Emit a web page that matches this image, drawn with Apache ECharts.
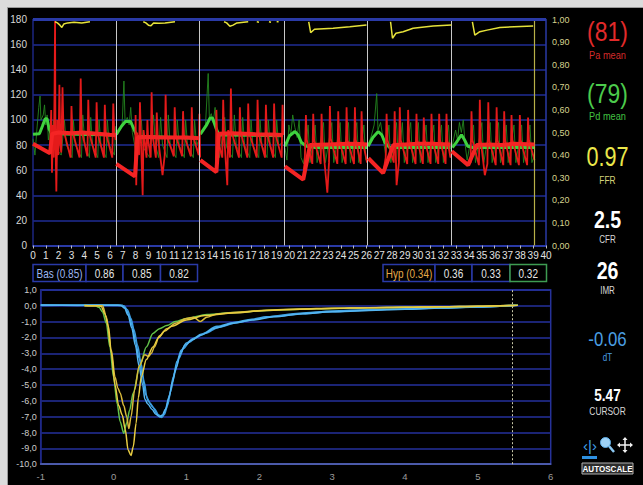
<!DOCTYPE html>
<html><head><meta charset="utf-8">
<script src="https://cdn.jsdelivr.net/npm/echarts/dist/echarts.min.js"></script>
<style>
html,body{margin:0;padding:0;background:#dcdcdc;width:643px;height:485px;overflow:hidden}
#bg{position:absolute;left:7px;top:7px;width:636px;height:478px;background:#000;border-left:1px solid #9a9a9a;border-top:1px solid #9a9a9a;box-sizing:border-box}
#chart{position:absolute;left:0;top:0;width:643px;height:485px}
</style></head><body><div id="bg"></div><div id="chart"></div>
<script>
// ---------- axis ranges / tick labels ----------
const topX = [0, 40, 1];
const topY = [0, 180, 20];
const ratioY = [0, 1, 0.1];
const botX = [-1, 6, 1];
const botY = [-10, 1, 1];

// ---------- pressure panel (time s, mmHg) ----------
const paMean = [
 [[0,81],[1.33,73.5],[1.5,89],[2.0,90],[3.0,89.5],[3.9,90],[5.0,89],[6.0,88.2],[6.45,88]],
 [[6.5,65],[7.95,55],[8.15,86],[9.0,86.5],[10.0,86],[11.0,86],[12.0,86],[12.97,85.5]],
 [[13.05,68],[14.3,58.5],[14.5,89],[15.5,89.5],[16.5,89],[17.5,88.5],[18.5,88.5],[19.5,88]],
 [[19.64,63],[21.07,52.5],[21.6,80],[23.0,80.5],[24.5,81],[25.5,80.8],[26.05,80.5]],
 [[26.15,69.5],[27.3,57.6],[28.1,80],[29.0,80.5],[30.0,81],[31.0,81],[32.55,80.5]],
 [[32.65,75],[33.93,64],[34.6,80],[35.5,80.5],[36.5,80],[37.5,81],[39.1,80.5]]
];
const paWave = [
 [[1.33,73],[1.42,108],[1.48,58],[1.56,96],[1.62,70],[1.68,122],[1.72,180],[1.75,88],[1.82,43],[1.9,100],[1.98,72],[2.06,128],[2.12,82],[2.2,74],[2.3,126],[2.38,92],[2.93,70],[3.0,111],[3.07,91],[3.63,70],[3.72,133],[3.79,92],[4.24,71],[4.31,116],[4.38,90],[4.89,70],[4.96,114],[5.03,90],[5.53,70],[5.6,112],[5.67,90],[6.18,70],[6.26,113],[6.33,90],[6.45,84]],
 [[7.95,55],[8.0,104],[8.05,48],[8.12,90],[8.27,72],[8.34,114],[8.41,88],[8.55,40],[8.62,92],[8.85,70],[8.92,100],[8.98,84],[9.18,70],[9.25,122],[9.32,88],[9.58,70],[9.65,106],[9.72,88],[10.1,56],[10.27,72],[10.34,120],[10.41,88],[10.98,71],[11.05,110],[11.12,88],[11.63,71],[11.7,107],[11.77,88],[12.31,71],[12.38,110],[12.45,88],[12.92,72],[12.98,105],[13.03,70]],
 [[14.25,58],[14.3,108],[14.36,86],[14.76,70],[14.83,116],[14.9,88],[15.15,48],[15.22,92],[15.36,70],[15.43,125],[15.5,90],[16.06,70],[16.13,110],[16.2,90],[16.71,70],[16.78,113],[16.85,90],[17.44,70],[17.51,116],[17.58,90],[18.09,70],[18.16,112],[18.23,90],[18.73,70],[18.8,113],[18.87,90],[19.39,70],[19.46,112],[19.52,88]],
 [[21.07,52.5],[21.2,70],[21.28,104],[21.35,84],[21.78,65],[21.85,105],[21.92,84],[22.43,65],[22.5,105],[22.57,84],[22.95,42],[23.08,66],[23.15,111],[23.22,85],[23.73,65],[23.8,107],[23.87,84],[24.38,65],[24.45,110],[24.52,84],[25.03,65],[25.1,110],[25.17,84],[25.55,65],[25.62,107],[25.69,84],[26.05,66]],
 [[27.3,57.6],[27.5,70],[27.57,105],[27.64,84],[28.13,66],[28.2,107],[28.27,80],[28.35,48],[28.53,66],[28.6,110],[28.67,84],[29.18,65],[29.25,108],[29.32,84],[29.83,65],[29.9,105],[29.97,84],[30.4,65],[30.47,102],[30.54,84],[31.0,65],[31.07,105],[31.14,84],[31.6,65],[31.67,105],[31.74,84],[32.17,65],[32.24,105],[32.31,84],[32.55,70]],
 [[33.93,64],[34.12,66],[34.19,107],[34.26,84],[34.77,64],[34.84,116],[34.91,84],[35.23,56],[35.43,65],[35.5,114],[35.57,84],[36.08,64],[36.15,110],[36.22,84],[36.67,64],[36.74,107],[36.81,84],[37.24,64],[37.31,104],[37.38,84],[37.89,64],[37.96,104],[38.03,84],[38.53,64],[38.6,102],[38.67,84],[39.1,68]]
];
const pdMean = [
 [[0,88.7],[0.5,89],[0.73,95],[0.95,101],[1.1,101],[1.25,93],[1.45,89],[6.45,88]],
 [[6.5,88.5],[6.9,95],[7.2,98.8],[7.6,98.8],[7.9,92],[8.1,87],[12.97,85.5]],
 [[13.05,88.7],[13.54,96],[13.8,101.5],[14.0,101.5],[14.26,93.7],[14.5,88],[19.5,87.5]],
 [[19.64,79],[20.0,87.4],[20.42,90.8],[20.68,88],[20.93,82],[21.33,79],[22.0,78],[26.05,78]],
 [[26.13,79],[26.5,86],[26.92,90.8],[27.2,88],[27.44,82],[27.8,78],[32.55,78]],
 [[32.7,78],[33.0,82],[33.41,88.2],[33.65,84],[33.9,79],[34.3,78],[39.1,78]]
];
const pdWave = [
 [[0,85],[0.15,72],[0.3,92],[0.45,110],[0.55,119],[0.62,100],[0.8,104],[0.9,112],[1.0,96],[1.1,104],[1.2,84],[1.3,92],[1.45,70],[1.6,100],[1.75,78],[2.2,72],[2.45,100],[2.6,80],[3.05,70],[3.15,100],[3.3,80],[3.78,70],[3.88,104],[4.05,80],[4.4,70],[4.5,102],[4.65,80],[5.05,70],[5.15,100],[5.3,80],[5.7,70],[5.8,100],[5.95,80],[6.35,72],[6.45,95]],
 [[6.5,88],[6.95,96],[7.09,131],[7.18,98],[7.35,102],[7.5,96],[7.62,110],[7.75,90],[8.1,70],[8.45,100],[8.6,78],[9.1,70],[9.4,104],[9.55,80],[9.8,70],[9.95,102],[10.1,80],[10.45,70],[10.55,104],[10.7,80],[11.15,70],[11.25,100],[11.4,80],[11.8,70],[11.9,100],[12.05,80],[12.5,70],[12.6,100],[12.75,80],[12.95,84]],
 [[13.05,88],[13.45,96],[13.66,137],[13.75,102],[13.9,105],[14.05,98],[14.2,110],[14.3,90],[14.55,70],[14.95,102],[15.1,78],[15.55,70],[15.7,104],[15.85,80],[16.25,70],[16.35,102],[16.5,80],[16.9,70],[17.0,100],[17.15,80],[17.6,70],[17.7,100],[17.85,80],[18.25,70],[18.35,100],[18.5,80],[18.9,70],[19.0,100],[19.15,80],[19.5,82]],
 [[19.64,78],[19.8,68],[19.95,96],[20.1,88],[20.25,104],[20.42,94],[20.6,86],[20.75,100],[20.9,70],[21.1,65],[21.45,96],[21.6,66],[22.0,96],[22.15,66],[22.65,98],[22.8,66],[23.3,98],[23.45,66],[23.95,98],[24.1,66],[24.6,98],[24.75,66],[25.25,98],[25.4,66],[25.8,96],[25.95,68]],
 [[26.13,80],[26.4,88],[26.6,96],[26.8,121],[26.9,92],[27.1,98],[27.3,85],[27.5,72],[27.75,96],[27.9,66],[28.35,98],[28.5,66],[28.8,98],[28.95,66],[29.45,98],[29.6,66],[30.05,98],[30.2,66],[30.65,96],[30.8,66],[31.25,96],[31.4,66],[31.85,96],[32.0,66],[32.4,96],[32.55,70]],
 [[32.7,80],[32.95,92],[33.1,84],[33.25,98],[33.4,90],[33.55,100],[33.7,80],[33.85,68],[34.35,96],[34.5,66],[35.0,98],[35.15,66],[35.65,98],[35.8,66],[36.3,98],[36.45,66],[36.9,96],[37.05,66],[37.5,96],[37.65,66],[38.1,96],[38.25,66],[38.75,96],[38.9,66],[39.1,72]]
];
// Pd/Pa ratio (right axis)
const ratio = [
 [[1.72,0.99],[1.9,0.985],[2.1,0.975],[2.25,0.965],[2.4,0.98],[2.7,0.985],[3.2,0.988],[3.8,0.985],[4.44,0.99]],
 [[8.6,0.99],[8.8,0.985],[9.0,0.975],[9.2,0.972],[9.4,0.985],[9.8,0.983],[10.3,0.985],[11.07,0.99]],
 [[14.9,0.99],[15.1,0.985],[15.35,0.97],[15.6,0.975],[15.9,0.985],[16.78,0.99]],
 [[17.45,0.99],[17.62,0.988]],
 [[18.4,0.99],[18.56,0.988]],
 [[19.0,0.99],[19.15,0.99]],
 [[21.5,0.99],[21.65,0.942],[21.95,0.957],[23.4,0.961],[24.7,0.968],[26.0,0.976]],
 [[27.88,0.99],[28.03,0.917],[28.3,0.939],[28.86,0.946],[29.64,0.961],[31.2,0.971],[32.63,0.976]],
 [[34.26,0.99],[34.45,0.931],[34.84,0.946],[35.4,0.953],[36.4,0.965],[39.0,0.971]]
];
const segmentBounds = [6.47, 13.0, 19.56, 26.1, 32.6];
const lastMark = 39.1;

// ---------- thermodilution curves (s, °C) ----------
const bas1 = [[-1,0.05],[-0.5,0.05],[0,0.05],[0.12,0.03],[0.17,-0.2],[0.22,-0.7],[0.26,-1.3],[0.3,-2.2],[0.35,-3.3],[0.4,-4.5],[0.44,-5.6],[0.48,-6.05],[0.54,-6.4],[0.6,-6.85],[0.64,-7.02],[0.68,-6.95],[0.72,-6.5],[0.77,-5.6],[0.82,-4.5],[0.87,-3.5],[0.93,-2.8],[1.0,-2.35],[1.1,-2.05],[1.2,-1.8],[1.42,-1.3],[1.65,-1.05],[1.9,-0.85],[2.1,-0.7],[2.56,-0.47],[3.0,-0.33],[3.5,-0.25],[3.93,-0.2],[4.4,-0.14],[4.84,-0.1],[5.2,-0.05],[5.55,0.03]];
const bas2 = [[-1,0.02],[-0.5,0.03],[0,0.02],[0.14,0.0],[0.19,-0.25],[0.24,-0.8],[0.28,-1.5],[0.33,-2.5],[0.38,-3.7],[0.42,-4.8],[0.46,-5.8],[0.5,-6.15],[0.56,-6.5],[0.62,-6.9],[0.66,-7.05],[0.7,-6.85],[0.74,-6.3],[0.79,-5.3],[0.84,-4.2],[0.9,-3.3],[0.96,-2.7],[1.04,-2.3],[1.14,-2.0],[1.25,-1.75],[1.45,-1.35],[1.7,-1.05],[1.95,-0.85],[2.2,-0.68],[2.6,-0.5],[3.0,-0.38],[3.5,-0.28],[4.0,-0.2],[4.5,-0.14],[5.0,-0.07],[5.52,0.05]];
const bas3 = [[-1,0.04],[-0.5,0.02],[0,0.03],[0.1,0.02],[0.15,-0.15],[0.2,-0.6],[0.25,-1.4],[0.3,-2.5],[0.35,-3.8],[0.4,-5.0],[0.43,-5.9],[0.47,-6.2],[0.53,-6.55],[0.58,-6.85],[0.63,-7.0],[0.67,-6.9],[0.71,-6.55],[0.76,-5.8],[0.81,-4.8],[0.86,-3.9],[0.92,-3.0],[0.98,-2.5],[1.08,-2.15],[1.2,-1.85],[1.4,-1.4],[1.65,-1.1],[1.9,-0.9],[2.2,-0.7],[2.6,-0.5],[3.0,-0.38],[3.5,-0.3],[4.0,-0.22],[4.5,-0.15],[5.0,-0.08],[5.5,0.02]];
const hyp1 = [[-0.4,0.02],[-0.2,0.0],[-0.17,-0.05],[-0.12,-0.5],[-0.07,-1.3],[-0.03,-3.0],[0.02,-5.0],[0.07,-6.3],[0.12,-6.9],[0.16,-7.8],[0.2,-9.1],[0.24,-9.45],[0.27,-8.9],[0.31,-7.4],[0.34,-5.8],[0.38,-4.5],[0.45,-3.4],[0.54,-2.6],[0.62,-2.0],[0.7,-1.6],[0.8,-1.3],[1.0,-0.9],[1.25,-0.62],[1.65,-0.45],[2.1,-0.3],[2.56,-0.22],[3.0,-0.17],[3.5,-0.12],[3.93,-0.1],[4.5,-0.06],[5.0,-0.03],[5.55,0.03]];
const hyp2 = [[-0.4,0.0],[-0.15,0.0],[-0.1,-0.7],[-0.03,-2.8],[0.02,-4.5],[0.06,-5.2],[0.09,-5.5],[0.14,-6.3],[0.18,-7.0],[0.21,-7.75],[0.24,-7.0],[0.29,-5.3],[0.35,-3.8],[0.43,-3.1],[0.48,-3.2],[0.52,-3.0],[0.56,-2.6],[0.63,-1.9],[0.73,-1.45],[0.85,-1.1],[1.0,-0.8],[1.1,-0.72],[1.19,-1.0],[1.28,-0.72],[1.42,-0.52],[1.65,-0.42],[2.1,-0.28],[2.56,-0.2],[3.0,-0.16],[3.5,-0.12],[4.0,-0.09],[4.5,-0.06],[5.0,-0.03],[5.5,0.02]];
const hyp3 = [[-0.4,0.02],[-0.25,0.0],[-0.2,-0.1],[-0.15,-0.4],[-0.1,-1.1],[-0.05,-2.6],[0.0,-4.5],[0.05,-6.2],[0.09,-7.3],[0.14,-8.05],[0.18,-7.4],[0.22,-6.6],[0.27,-5.5],[0.36,-3.8],[0.45,-2.6],[0.54,-1.75],[0.63,-1.45],[0.73,-1.25],[0.85,-1.0],[1.0,-0.8],[1.28,-0.55],[1.65,-0.42],[2.1,-0.3],[2.56,-0.22],[3.0,-0.17],[3.5,-0.12],[4.0,-0.09],[4.5,-0.06],[5.0,-0.03],[5.55,0.03]];
const cursorT = 5.47;

// ---------- readouts ----------
const basLabel = 'Bas', basMean = 0.85, basValues = [0.86, 0.85, 0.82];
const hypLabel = 'Hyp', hypMean = 0.34, hypValues = [0.36, 0.33, 0.32];
const paMeanVal = 81, pdMeanVal = 79, ffrVal = '0.97', cfrVal = '2.5', imrVal = 26, dTVal = '-0.06', cursorVal = '5.47';

// ---------- build ----------
const F = '"Liberation Sans",Arial,sans-serif';
const chart = echarts.init(document.getElementById('chart'), null, {renderer: 'svg'});
const series = [];
const line = (data, color, width, z, xi, yi, extra) => Object.assign({
  type: 'line', data, xAxisIndex: xi, yAxisIndex: yi, showSymbol: false, symbol: 'none',
  silent: true, animation: false, z, lineStyle: {color, width}
}, extra || {});

pdWave.forEach(s => series.push(line(s, '#23861f', 1, 2, 0, 0, {lineStyle: {color: '#23861f', width: 1, opacity: 0.9}})));
pdMean.forEach(s => series.push(line(s, '#3fd23f', 3, 3, 0, 0)));
paWave.forEach(s => series.push(line(s, '#e41a1a', 1.8, 4, 0, 0)));
paMean.forEach((s, i) => series.push(line(s, '#f42424', 4, 5, 0, 0, i === 0 ? {
  markLine: {silent: true, symbol: ['none','none'], label: {show: false}, animation: false,
    data: [
      ...segmentBounds.map(v => ({xAxis: v, lineStyle: {color: '#c8c8c8', width: 1, type: 'solid'}})),
      {xAxis: lastMark, lineStyle: {color: '#b8b048', width: 1.2, type: 'solid'}},
      {yAxis: topY[1], lineStyle: {color: '#2a3aa6', width: 3, type: 'solid'}}
    ]}
} : {})));
ratio.forEach(s => series.push(line(s, '#e6e23a', 1.5, 6, 0, 1)));

const curveOpt = {smooth: 0.3, smoothMonotone: 'x'};
[bas1, bas2, bas3].forEach((s, i) => series.push(line(s, ['#45aaea','#3a9ade','#55b6f2'][i], 1.5, 3, 1, 2, Object.assign({}, curveOpt, i === 0 ? {
  markLine: {silent: true, symbol: ['none','none'], label: {show: false}, animation: false,
    data: [{xAxis: cursorT, lineStyle: {color: '#c8c8a8', width: 1, type: [2, 2]}}]}
} : {}))));
series.push(line(hyp3, '#62c24a', 1.5, 4, 1, 2, curveOpt));
series.push(line(hyp2, '#d9b93a', 1.5, 5, 1, 2, curveOpt));
series.push(line(hyp1, '#e8cc42', 1.5, 5, 1, 2, curveOpt));

// graphics: boxes and right panel
const G = [];
const boxRow = (xs, label, mean, vals, labelColor, lastColor) => {
  const texts = [`${label} (${mean.toFixed(2)})`, ...vals.map(v => v.toFixed(2))];
  texts.forEach((t, i) => {
    G.push({type: 'rect', shape: {x: xs[i], y: 264.5, width: xs[i+1] - xs[i], height: 17},
      style: {fill: '#000', stroke: (i === texts.length - 1 && lastColor) ? lastColor : '#2a3aa8', lineWidth: 1.5}, z: 10});
    G.push({type: 'text', x: (xs[i] + xs[i+1]) / 2, y: 273.5, z: 11, scaleX: 0.8,
      style: {text: t, fill: i === 0 ? labelColor : '#e6e6e6', font: `12.5px ${F}`, align: 'center', verticalAlign: 'middle'}});
  });
};
boxRow([33, 86, 123, 160.5, 197.5], basLabel, basMean, basValues, '#9db5f2', null);
boxRow([383, 435, 472, 510, 546.5], hypLabel, hypMean, hypValues, '#e3a848', '#3e9c52');

const T = (text, y, size, color, bold, sx) => G.push({type: 'text', x: 607.5, y, z: 11, scaleX: sx || 0.8,
  style: {text, fill: color, font: `${bold ? 'bold ' : ''}${size}px ${F}`, align: 'center', verticalAlign: 'middle'}});
T(`(${paMeanVal})`, 31.5, 27, '#e22a2a', false, 0.85);
T('Pa mean', 55, 11.5, '#d42a2a');
T(`(${pdMeanVal})`, 93, 27, '#4ccb4c', false, 0.85);
T('Pd mean', 116, 11.5, '#42c242');
T(ffrVal, 157, 27, '#ebe74a');
T('FFR', 180.5, 10.5, '#d4d27a');
T(cfrVal, 220.5, 23, '#ffffff', true, 0.85);
T('CFR', 240, 10, '#d8d8d8');
T(String(imrVal), 271.5, 23, '#ffffff', true, 0.85);
T('IMR', 291, 10, '#d8d8d8');
T(dTVal, 339, 21, '#4a9ee2');
T('dT', 357.5, 10, '#4a9ee2');
T(cursorVal, 396, 16, '#ffffff', true, 0.85);
T('CURSOR', 411.5, 10.5, '#d8d8d8');
// icons
G.push({type: 'text', x: 590, y: 445, z: 11, style: {text: '‹|›', fill: '#40a2ea', font: `15px ${F}`, align: 'center', verticalAlign: 'middle'}});
G.push({type: 'rect', shape: {x: 582, y: 456, width: 15, height: 3}, style: {fill: '#2e90e0'}, z: 11});
G.push({type: 'line', shape: {x1: 609, y1: 446, x2: 614, y2: 452}, style: {stroke: '#8cc8f2', lineWidth: 2.5}, z: 11});
G.push({type: 'circle', shape: {cx: 605.5, cy: 442.5, r: 5}, style: {fill: '#9ed2f6', stroke: '#5fb0ea', lineWidth: 1}, z: 11});
G.push({type: 'line', shape: {x1: 618, y1: 445, x2: 632, y2: 445}, style: {stroke: '#f0f0f0', lineWidth: 1.5}, z: 11});
G.push({type: 'line', shape: {x1: 625, y1: 438, x2: 625, y2: 452}, style: {stroke: '#f0f0f0', lineWidth: 1.5}, z: 11});
[[[617,445],[620,442.5],[620,447.5]],[[633,445],[630,442.5],[630,447.5]],[[625,437],[622.5,440],[627.5,440]],[[625,453],[622.5,450],[627.5,450]]]
  .forEach(p => G.push({type: 'polygon', shape: {points: p}, style: {fill: '#f0f0f0'}, z: 11}));
G.push({type: 'rect', shape: {x: 582, y: 463, width: 51, height: 11}, style: {fill: '#2c2c2c', stroke: '#b0b0b0', lineWidth: 1}, z: 11});
G.push({type: 'text', x: 607.5, y: 468.8, z: 12, scaleX: 0.85, style: {text: 'AUTOSCALE', fill: '#ffffff', font: `bold 9.5px ${F}`, align: 'center', verticalAlign: 'middle'}});

const axisLbl = (color, size, margin, fmt) => ({color, fontSize: size, fontFamily: F, margin, formatter: fmt});
chart.setOption({
  backgroundColor: 'transparent',
  animation: false,
  grid: [
    {left: 33, top: 19.5, width: 513, height: 226, outerBoundsMode: 'none', containLabel: false},
    {left: 40.7, top: 289.9, width: 510, height: 174.3, outerBoundsMode: 'none', containLabel: false,
     show: true, borderColor: '#26329a', borderWidth: 1.5, backgroundColor: 'transparent'}
  ],
  xAxis: [
    {type: 'value', gridIndex: 0, min: topX[0], max: topX[1], interval: topX[2],
     axisLine: {show: true, onZero: false, lineStyle: {color: '#2a3aa6', width: 2}},
     axisTick: {show: true, length: 3, lineStyle: {color: '#bbbbbb'}},
     axisLabel: axisLbl('#e2e2e2', 10, 5), splitLine: {show: false}},
    {type: 'value', gridIndex: 1, min: botX[0], max: botX[1], interval: botX[2],
     axisLine: {show: true, onZero: false, lineStyle: {color: '#5a6ab2', width: 1.5}},
     axisTick: {show: false}, axisLabel: axisLbl('#9c9c9c', 9.5, 7), splitLine: {show: false}}
  ],
  yAxis: [
    {type: 'value', gridIndex: 0, min: topY[0], max: topY[1], interval: topY[2], position: 'left',
     axisLine: {show: true, lineStyle: {color: '#1c2680', width: 1.5}}, axisTick: {show: false},
     axisLabel: axisLbl('#d8d8d8', 10, 6), splitLine: {show: true, lineStyle: {color: '#1f2c94', width: 1.5}}},
    {type: 'value', gridIndex: 0, min: ratioY[0], max: ratioY[1], interval: ratioY[2], position: 'right',
     axisLine: {show: true, lineStyle: {color: '#2a3aa6', width: 1.5}}, axisTick: {show: false},
     axisLabel: axisLbl('#d6d48e', 9, 6, v => v.toFixed(2).replace('.', ',')), splitLine: {show: false}},
    {type: 'value', gridIndex: 1, min: botY[0], max: botY[1], interval: botY[2],
     axisLine: {show: true, onZero: false, lineStyle: {color: '#1c2680', width: 1.5}}, axisTick: {show: false},
     axisLabel: axisLbl('#cccccc', 9, 4, v => v.toFixed(1).replace('.', ',')),
     splitLine: {show: true, lineStyle: {color: '#24309c', width: 1.5}}}
  ],
  series,
  graphic: G
});
</script></body></html>
